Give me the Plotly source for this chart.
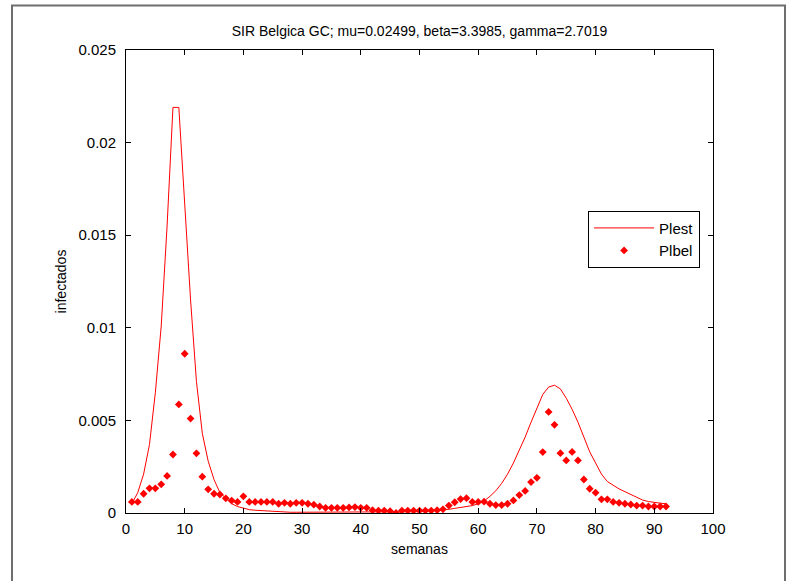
import plotly.graph_objects as go

weeks = list(range(1, 93))

plest = [0.0005, 0.0011, 0.0021, 0.0037, 0.0065, 0.0101, 0.0155, 0.0219, 0.0219, 0.0166,
         0.0115, 0.0071, 0.0043, 0.0028, 0.0018, 0.0011, 0.0008, 0.0005, 0.00035, 0.00025,
         0.00018, 0.00015, 0.00013, 0.0001, 0.00007, 0.00005, 0.00004, 0.00004, 0.00004, 0.00004,
         0.00004, 0.00004, 0.00004, 0.00004, 0.00004, 0.00004, 0.00004, 0.00004, 0.00004, 0.00004,
         0.00004, 0.00004, 0.00004, 0.00004, 0.00004, 0.00004, 0.00004, 0.00005, 0.00006, 0.00007,
         0.00009, 0.00011, 0.00014, 0.00017, 0.0002, 0.00025, 0.0003, 0.00034, 0.0004, 0.0005,
         0.00065, 0.0009, 0.0012, 0.0016, 0.0021, 0.0027, 0.0034, 0.0041, 0.0049, 0.0057,
         0.0064, 0.0068, 0.0069, 0.0067, 0.0062, 0.0056, 0.0049, 0.0041, 0.0033, 0.0027,
         0.0021, 0.0017, 0.0015, 0.0013, 0.00115, 0.001, 0.00085, 0.0007, 0.00062, 0.00056,
         0.00053, 0.0005]

plbel = [0.0006, 0.0006, 0.00104, 0.00133, 0.00133, 0.00155, 0.0020, 0.00316, 0.00586, 0.0086,
         0.0051, 0.00322, 0.00196, 0.00128, 0.00104, 0.0010, 0.00079, 0.00067, 0.0006, 0.0009,
         0.0006, 0.0006, 0.0006, 0.0006, 0.0006, 0.0005, 0.00055, 0.0005, 0.00055, 0.00055,
         0.0005, 0.00045, 0.00035, 0.00028, 0.00028, 0.00028, 0.00028, 0.0003, 0.00032, 0.00028,
         0.00028, 0.00015, 0.00013, 0.00013, 0.0001, 0.0, 0.00013, 0.00013, 0.00013, 0.00013,
         0.00013, 0.00013, 0.00015, 0.0002, 0.0004, 0.00058, 0.00075, 0.0008, 0.0006, 0.0006,
         0.00061, 0.0005, 0.00043, 0.00043, 0.0005, 0.00068, 0.00097, 0.00119, 0.00167, 0.0019,
         0.00329, 0.00546, 0.00476, 0.00323, 0.00284, 0.0033, 0.00284, 0.00181, 0.00131, 0.0011,
         0.00074, 0.00074, 0.0006, 0.00055, 0.0005, 0.00046, 0.0004, 0.0004, 0.00035, 0.00035,
         0.00035, 0.00035]

x_ticks = [0, 10, 20, 30, 40, 50, 60, 70, 80, 90, 100]
y_ticks = [0, 0.005, 0.01, 0.015, 0.02, 0.025]
y_tick_labels = ["0", "0.005", "0.01", "0.015", "0.02", "0.025"]

title_text = "SIR Belgica GC; mu=0.02499, beta=3.3985, gamma=2.7019"

fig = go.Figure()
fig.add_trace(go.Scatter(x=weeks, y=plest, mode="lines", name="Plest",
                         line=dict(color="#ff0000", width=1)))
fig.add_trace(go.Scatter(x=weeks, y=plbel, mode="markers", name="Plbel",
                         marker=dict(color="#ff0000", symbol="diamond", size=6,
                                     line=dict(width=0))))

font = "Liberation Sans, Arial, sans-serif"
axis_common = dict(showline=True, linecolor="black", linewidth=1, mirror="ticks",
                   ticks="inside", ticklen=5, tickcolor="black", showgrid=False,
                   zeroline=False, tickfont=dict(family=font, size=15, color="black"))

fig.update_layout(
    width=788, height=581,
    margin=dict(l=126, r=75, t=50, b=68),
    paper_bgcolor="white", plot_bgcolor="white",
    title=dict(text=title_text, x=(126 + 713) / 2 / 788, xanchor="center",
               y=1 - 31 / 581, yanchor="middle",
               font=dict(family=font, size=14, color="black")),
    xaxis=dict(range=[0, 100], tickvals=x_ticks, ticklabelstandoff=2,
               title=dict(text="semanas", font=dict(family=font, size=14, color="black"),
                          standoff=8),
               **axis_common),
    yaxis=dict(range=[0, 0.025], tickvals=y_ticks, ticktext=y_tick_labels,
               ticklabelstandoff=6,
               title=dict(text="infectados", font=dict(family=font, size=14, color="black"),
                          standoff=8),
               **axis_common),
    legend=dict(x=0.978, xanchor="right", y=0.653, yanchor="top",
                bordercolor="black", borderwidth=1, bgcolor="white",
                font=dict(family=font, size=15, color="black"),
                itemwidth=60, tracegroupgap=2),
    showlegend=True,
    shapes=[dict(type="rect", xref="paper", yref="paper",
                 x0=(12 - 126) / 587, x1=(785 - 126) / 587,
                 y0=(513 - 640) / 462.5, y1=(513 - 6) / 462.5,
                 line=dict(color="#6e6e6e", width=2), layer="below")],
)

fig.write_html("out.html")
